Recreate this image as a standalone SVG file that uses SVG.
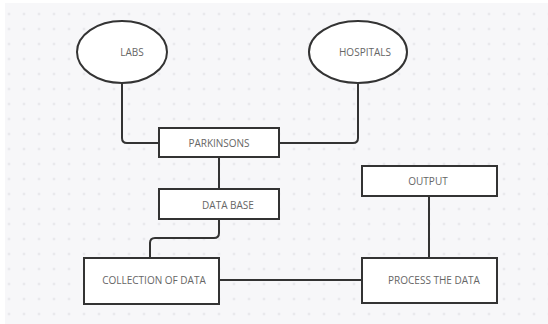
<svg xmlns="http://www.w3.org/2000/svg" width="548" height="324" viewBox="0 0 548 324">
<style>
.shape{fill:#ffffff;stroke:#333333;stroke-width:2}
.conn{fill:none;stroke:#333333;stroke-width:2}
.lbl{font-family:"Open Sans","Noto Sans",sans-serif;font-size:10px;fill:#666666;text-anchor:middle;dominant-baseline:central}
</style>
<defs>
<pattern id="grid" x="1.5" y="6.5" width="15" height="15" patternUnits="userSpaceOnUse">
<circle cx="7.5" cy="7.5" r="1" fill="#d9d9de"/>
</pattern>
</defs>
<rect width="548" height="324" fill="#ffffff"/>
<rect x="5" y="3" width="543" height="321" fill="#f7f7f9"/>
<rect x="5" y="3" width="543" height="321" fill="url(#grid)"/>
<g id="connectors">
<path class="conn" d="M122 83 V138 Q122 143 127 143 H159"/>
<path class="conn" d="M358 83 V138 Q358 143 353 143 H279"/>
<path class="conn" d="M219 157 V189"/>
<path class="conn" d="M219 219 V233 Q219 238 214 238 H155 Q150 238 150 243 V258"/>
<path class="conn" d="M219 280 H362"/>
<path class="conn" d="M429 196 V258"/>
</g>
<g id="labs">
<ellipse class="shape" cx="122" cy="52" rx="45" ry="31"/>
<text class="lbl" x="132" y="52">LABS</text>
</g>
<g id="hospitals">
<ellipse class="shape" cx="358" cy="52" rx="49" ry="31"/>
<text class="lbl" x="365" y="52">HOSPITALS</text>
</g>
<g id="parkinsons">
<rect class="shape" x="159" y="128" width="120" height="29"/>
<text class="lbl" x="219" y="143">PARKINSONS</text>
</g>
<g id="database">
<rect class="shape" x="159" y="189" width="120" height="30"/>
<text class="lbl" x="228" y="205">DATA BASE</text>
</g>
<g id="collection">
<rect class="shape" x="84" y="258" width="135" height="46"/>
<text class="lbl" x="154" y="280">COLLECTION OF DATA</text>
</g>
<g id="output">
<rect class="shape" x="362" y="166" width="135" height="30"/>
<text class="lbl" x="428" y="181">OUTPUT</text>
</g>
<g id="process">
<rect class="shape" x="362" y="258" width="135" height="45"/>
<text class="lbl" x="434" y="280">PROCESS THE DATA</text>
</g>
</svg>
